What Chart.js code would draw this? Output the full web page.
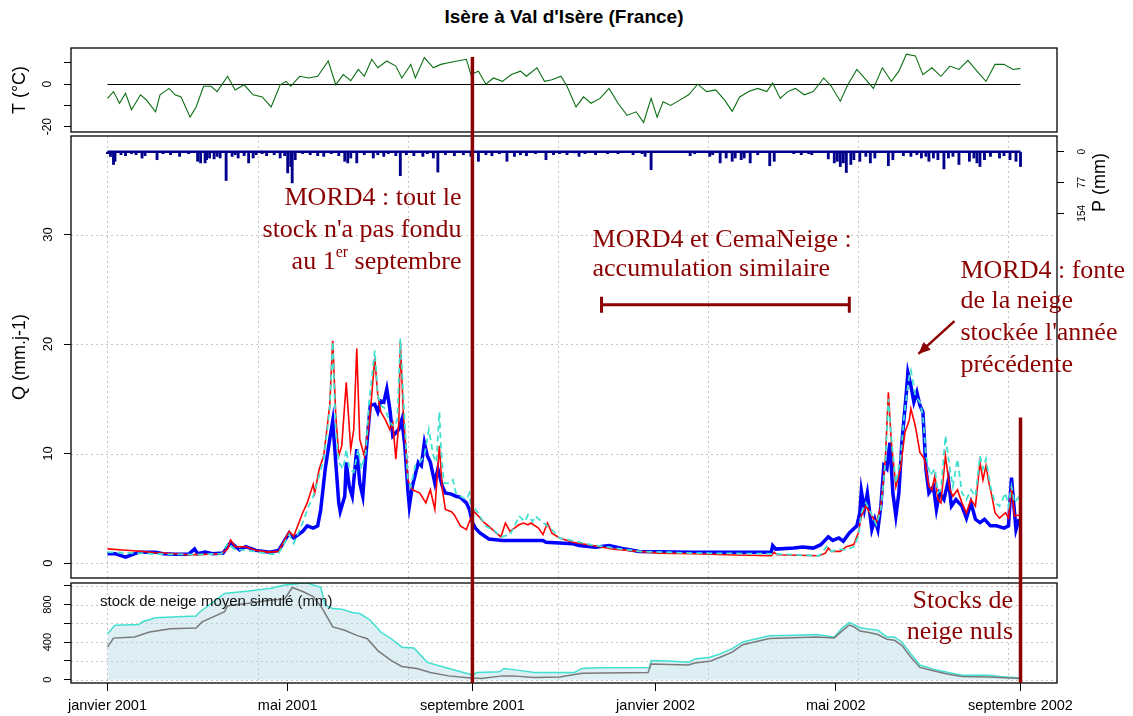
<!DOCTYPE html>
<html>
<head>
<meta charset="utf-8">
<script src="https://cdn.jsdelivr.net/npm/chart.js@4.4.1/dist/chart.umd.min.js"></script>
<style>
  body { margin: 0; background: #fff; width: 1133px; height: 716px; overflow: hidden; position: relative; }
  canvas { position: absolute; left: 0; }
  #title { position: absolute; top: 6px; left: 71px; width: 986px; text-align: center;
           font: bold 19px "Liberation Sans", Arial, sans-serif; color: #000; }
</style>
</head>
<body>
<div id="title">Isère à Val d'Isère (France)</div>
<canvas id="cT" width="1133" height="135" style="top:0"></canvas>
<canvas id="cQ" width="1133" height="446" style="top:135px"></canvas>
<canvas id="cS" width="1133" height="135" style="top:581px"></canvas>
<script>
// days counted from 1 janvier 2001
const monthTickDays = [0, 120, 243, 365, 485, 608];
const monthTickLabels = ['janvier 2001', 'mai 2001', 'septembre 2001', 'janvier 2002', 'mai 2002', 'septembre 2002'];
const gridDays = [0, 100, 200, 300, 400, 500, 600];
const septDays = [243, 608];

// temperature (°C)
const tDays = [0,4,8,12,16, 22,26,32,35,41, 45,49,55,59,64, 69,73,80,85,91, 97,103,109,115,119,
  122,128,134,140,147, 152,157,162,167,171, 176,180,186,192,196, 202,205,211,217,222, 227,233,239,242,247,
  252,257,263,269,275, 279,286,291,296,302, 306,312,317,322,328, 334,340,346,352,357, 362,366,370,375,381,
  387,393,399,405,411, 416,421,427,433,439, 443,448,453,458,464, 470,477,482,488,493, 499,504,510,516,522,
  527,532,538,543,549, 555,561,567,573,579, 585,591,597,603,608];
const tValues = [-6.7,-3.5,-9,-4.3,-12, -5,-7.5,-13,-5,-2, -5,-6,-15.5,-10.7,-1, -1,-3.5,3.7,-2.7,-0.3, -5,-6,-10.7,-0.3,1.3,
  -1,3.7,2.9,3.7,10.9, -0.3,4.5,1.6,6.9,3.7, 11.7,7.7,10.9,8.5,2.9, 9.3,2.9,12.5,7.7,9.3, 10.1,10.9,11.7,4.5,6.1,
  0,2.9,1.3,4.5,6.1, 3.7,7.7,1.3,2.1,3.7, -1,-10.7,-6,-9,-6.7, -2,-9,-14.7,-13,-18, -6.7,-15.5,-8.3,-10,-7.5,
  -5,0,-3.5,-2.7,-7.5, -12.8,-6,-3.5,-2,-3.5, 0.5,-6.7,-3.5,-2,-5, -3.5,2.9,-1,-8,-0.3, 6.9,2.9,-2,7.7,1.3,
  6.1,14.1,13.3,4.5,7.7, 3.7,8.5,6.9,11.2,6.1, 1.3,9.3,9.3,6.9,7.4];

// precipitation (mm)
const pDays = [0,2,4,5,9, 12,16,19,23,25, 33,37,42,48,54, 60,62,65,66,68, 71,73,75,79,83, 85,87,91,94,97,
  99,103,106,111,115, 118,120,122,123,125, 130,135,140,144,149, 154,158,160,162,166, 171,177,180,184,187,
  192,195,199,204,210, 213,217,220,225,231, 237,242,247,252,256, 261,266,271,275,279, 285,292,297,301,306,
  311,314,318,325,333, 340,350,356,358,362, 388,391,401,403,408, 412,416,418,422,424, 428,433,441,444,457,
  462,467,469,480,484, 486,488,490,492,495, 497,501,505,508,511, 520,523,530,535,539, 542,545,547,550,553,
  557,560,563,567,574, 577,579,581,584,588, 594,597,601,605,608];
const pValues = [5,12,32,24,7.5, 10,5,7.5,16,10, 20,5,7.5,11.7,5, 24,28,28,20,15.8, 18,11.7,15.8,72,11.7, 7.5,15.8,10,28,15.8,
  7.5,5,10,7.5,15.8, 10,53,37,78,20, 5,7.5,10,11.7,5, 10,24,28,15.8,28, 7.5,15.8,7.5,11.7,5,
  10,60,7.5,10,11.7, 5,15.8,51,7.5,10, 7.5,11.7,24,7.5,10, 5,24,11.7,7.5,10, 5,20,7.5,5,7.5,
  3,11.7,5,7.5,5, 5,7.5,5,11.7,45, 10,5,11.7,7.5,28, 15.8,24,15.8,20,15.8, 28,7.5,35,24,5,
  7.5,5,7.5,18,28, 24,37,28,52,32, 20,24,11.7,28,15.8, 35,20,10,11.7,7.5, 15.8,11.7,24,15.8,20,
  43,15.8,11.7,32,24, 15.8,28,37,20,11.7, 15.8,10,20,24,37];

// observed discharge (mm/j)
const obsDays = [0,5,12,17,21, 32,37,45,54,58, 60,65,70,77,80, 82,88,92,99,108, 114,121,124,130,133,
  137,140,142,145,148, 150,152,154,155,158, 159,161,163,166,168, 170,172,175,178,180, 182,184,186,188,190,
  192,194,196,198,200, 201,203,207,209,211, 213,215,218,220,223, 225,229,232,235,239, 241,243,245,248,254,
  263,290,292,310,314, 325,334,345,354,390, 442,443,445,457,463, 470,475,480,483,487, 490,494,499,501,502,
  504,506,509,511,513, 515,517,519,521,523, 525,527,529,532,533, 535,537,539,541,543, 545,547,550,552,554,
  557,560,562,565,569, 572,575,578,581,584, 588,592,597,600,602, 604,605,607];
const obsQ = [0.86,0.86,0.55,0.8,1.0, 1.0,0.86,0.8,0.8,1.3, 0.86,1.0,0.86,0.92,1.5, 1.9,1.2,1.5,1.16,1.0, 1.16,2.75,2.3,2.9,3.4,
  3.2,3.4,4.9,8.6,11.3, 13,9.2,5.5,4.7,6.1, 9.2,7,6.1,10.4,7.3, 6.1,9.8,14.4,14.5,13.8, 14.8,14.7,15.9,14.1,11.6,
  11.9,12.2,13.1,10.7,6.7, 5.2,7,9.2,8.9,11, 9.8,9.2,7.3,8.6,7, 6.4,6.3,6.1,6,5.5, 4.9,3.7,3.2,2.75,2.2,
  2.07,2.07,1.9,1.77,1.6, 1.46,1.6,1.28,1.07,0.98, 0.98,1.6,1.28,1.37,1.46, 1.37,1.68,2.4,2.07,2.3, 2.0,2.75,3.4,4.6,6.6,
  4.9,6.4,3.06,4,3.06, 5.2,8.9,8.6,11,6.4, 4.3,6.4,11,15.6,17.4, 16.2,14.7,15.6,14.4,13.8, 8.6,6.4,7,4.9,6.4,
  5.8,7.6,5.2,5.8,5.2, 4.1,5.5,4,3.7,4, 3.4,3.4,3.2,3.4,7.8, 4.6,3.06,4];

// MORD4 simulated discharge (mm/j)
const mordDays = [0,10,20,32,45, 54,65,76,80,82, 85,92,99,107,114, 121,124,130,133,137, 138,141,144,148,150,
  152,154,156,159,162, 164,166,168,171,173, 175,178,180,182,185, 188,190,192,194,195, 197,200,203,208,212,
  215,218,221,223,225, 229,231,235,239,241, 244,247,250,254,259, 262,265,268,271,274, 277,280,282,287,290,
  293,296,301,310,323, 337,354,368,390,412, 442,444,446,474,478, 480,482,488,492,497, 500,502,505,509,512,
  515,518,520,522,525, 528,531,534,535,538, 541,544,547,549,551, 553,555,558,561,563, 566,569,572,575,578,
  581,583,585,587,589, 591,594,598,600,602, 604,607];
const mordQ = [1.3,1.2,1.1,0.95,0.85, 0.75,0.8,0.86,1.3,2.1, 1.5,1.5,1.16,1.0,1.07, 2.9,2.45,4.6,5.5,7.2, 6.4,8.6,9.8,14.4,20.3,
  13.5,9.8,10.7,16.5,10.4, 12.2,19.6,11.3,9.8,11.6, 13.8,18.7,15.3,13.8,13.1, 12.2,12.8,9.5,12.8,20.2, 13.8,7.6,6.7,6.4,5.5,
  6.7,4.9,10.7,6.7,4.9, 4.7,4.4,3.4,3.06,3.8, 4.7,4.3,3.8,3.35,2.74, 2.4,3.66,2.9,3.2,3.5, 3.66,3.5,3.66,3.2,2.6,
  3.66,2.74,2.3,1.9,1.6, 1.28,1.07,0.91,0.85,0.76, 0.67,0.98,0.76,0.67,0.91, 1.37,1.07,1.07,1.5,1.7, 2.75,4.3,5.2,4.3,3.7,
  5.2,9.5,15.6,11,7, 8.6,11.9,13.1,14.1,12.5, 10.1,9.5,7,6.7,8, 5.8,5.5,9.8,6.7,6.1, 6.7,5.5,4.6,5.8,5.2,
  9.2,7.6,8.9,7.3,6.1, 4.6,4.1,4.6,4.1,7, 4.3,4.4];

// CemaNeige simulated discharge (mm/j)
const cemaDays = [0,20,40,60,76, 80,85,92,100,110, 114,121,124,130,134, 137,141,144,148,150, 152,154,157,159,161,
  164,167,169,172,174, 178,180,182,185,188, 191,193,195,197,200, 202,205,208,211,214, 217,219,221,222,224,
  228,230,232,235,239, 241,243,245,248,252, 257,262,268,271,274, 278,280,283,285,289, 292,296,301,323,354,
  390,442,474,479,482, 488,492,497,500,502, 505,509,512,515,518, 520,522,525,528,531, 534,535,538,541,543,
  545,548,551,553,555, 558,561,563,566,569, 572,575,578,581,583, 585,588,591,594,598, 600,602,604,607];
const cemaQ = [1.0,0.9,0.8,0.78,0.86, 1.8,1.2,1.2,1.0,0.8, 0.9,2.6,1.8,3.7,5.2, 6.1,8,9.5,14.1,20.2, 12.2,9.2,8.6,10.4,8.6,
  8.3,10.4,8.6,10.1,14.4, 19.4,15.3,14.4,14.1,12.8, 12.5,13.1,20.5,15.3,7.6, 7,8.9,9.2,9.8,12.2, 9.8,9.2,13.8,10.7,7.3,
  7.3,7.6,6.4,6.1,5.8, 6.4,4,4.9,4.3,3.35, 3.05,2.4,2.6,3.35,4.3, 3.8,4.4,3.8,4.3,3.8, 3.5,3.05,2.3,1.65,1.07,
  0.91,0.85,0.67,1.52,1.07, 1.28,1.2,1.5,2.45,4.6, 5.5,4.4,3.5,4.9,9.2, 15,11.3,7.3,9.5,14.1, 17.1,17.6,15.3,14.7,13.5,
  9.8,8,8.6,6.4,6.7, 11.6,8.6,7,9.5,6.4, 5.8,6.7,6.1,9.8,8.6, 9.5,7,5.5,5.2,6.4, 5.2,7,5.5,6.1];

// simulated mean snow stock (mm)
const snowCemaDays = [0,5,21,23,32, 47,59,61,78,94, 109,118,125,132,142, 145,150,156,163,168, 175,182,189,196,204,
  213,225,237,243,246, 261,264,272,284,300, 311,316,326,361,362, 374,387,391,401,408, 416,423,433,441,457,
  472,484,489,494,497, 501,507,513,519,524, 529,535,541,550,560, 569,587,594,608];
const snowCema = [490,580,587,615,660, 670,680,716,920,945, 975,1010,1020,1035,985, 795,760,752,716,705, 634,508,436,346,338,
  184,130,76,50,76, 83,119,104,76,76, 76,120,127,130,203, 199,185,221,239,275, 330,402,438,467,474,
  481,456,547,608,590, 554,539,528,456,456, 402,275,156,112,76, 47,47,33,18];
const snowMordDays = [0,4,18,28,42, 59,63,78,80,94, 109,118,123,130,137, 143,150,158,166,173, 180,189,196,206,215,
  227,242,249,263,270, 284,301,316,360,362, 387,391,401,408,416, 423,433,441,472,484, 489,494,497,501,507,
  513,519,524,529,535, 541,550,560,569,587, 608];
const snowMord = [346,443,454,508,544, 551,616,724,788,814, 850,860,983,940,886, 760,562,526,472,436, 310,202,140,119,76,
  40,18,11,40,40, 22,29,69,76,167, 156,177,195,239,293, 373,409,438,456,445, 518,583,565,518,503,
  481,431,420,366,239, 130,94,58,33,29, 11];

const X_MIN = -24.3, X_MAX = 632.3;
const SANS = '"Liberation Sans", Arial, sans-serif';
const SERIF = '"Liberation Serif", "Times New Roman", serif';
const DARKRED = '#8b0000';
Chart.defaults.font.family = SANS;

function pts(days, vals) {
  return days.map((d, i) => ({ x: d, y: vals[i] }));
}

function vText(ctx, txt, x, y, size) {
  ctx.save();
  ctx.translate(x, y);
  ctx.rotate(-Math.PI / 2);
  ctx.font = size + 'px ' + SANS;
  ctx.fillStyle = '#000';
  ctx.textAlign = 'center';
  ctx.textBaseline = 'middle';
  ctx.fillText(txt, 0, 0);
  ctx.restore();
}

// y axis with outside tick marks only, labels drawn rotated by a plugin
function yAxis(min, max, ticks, side, width, reverse) {
  return {
    position: side, min: min, max: max, reverse: !!reverse,
    afterBuildTicks: s => { s.ticks = ticks.map(v => ({ value: v })); },
    afterFit: s => { s.width = width; },
    ticks: { display: false },
    grid: { drawOnChartArea: false, drawTicks: true, tickLength: 7, tickColor: '#000', tickWidth: 1 },
    border: { display: false }
  };
}

function hiddenX() {
  return { type: 'linear', min: X_MIN, max: X_MAX, offset: false, grid: { offset: false }, display: false };
}

// dotted grid, box, rotated labels, red september lines
function decor(o) {
  return {
    id: 'decor',
    beforeDatasetsDraw(chart) {
      const { ctx, chartArea: a, scales } = chart;
      ctx.save();
      ctx.strokeStyle = '#c4c4c4';
      ctx.lineWidth = 1;
      ctx.setLineDash([2, 3]);
      (o.vGrid || []).forEach(d => {
        const x = Math.round(scales.x.getPixelForValue(d)) + 0.5;
        ctx.beginPath(); ctx.moveTo(x, a.top); ctx.lineTo(x, a.bottom); ctx.stroke();
      });
      (o.hGrid || []).forEach(v => {
        const y = Math.round(scales.y.getPixelForValue(v)) + 0.5;
        ctx.beginPath(); ctx.moveTo(a.left, y); ctx.lineTo(a.right, y); ctx.stroke();
      });
      ctx.setLineDash([]);
      if (o.zeroLine) {
        const y = Math.round(scales.y.getPixelForValue(0)) + 0.5;
        ctx.strokeStyle = '#000';
        ctx.beginPath();
        ctx.moveTo(scales.x.getPixelForValue(tDays[0]), y);
        ctx.lineTo(scales.x.getPixelForValue(tDays[tDays.length - 1]), y);
        ctx.stroke();
      }
      ctx.restore();
    },
    afterDatasetsDraw(chart) {
      const { ctx, chartArea: a } = chart;
      ctx.save();
      ctx.strokeStyle = '#000';
      ctx.lineWidth = 1.3;
      ctx.strokeRect(a.left, a.top, a.right - a.left, a.bottom - a.top);
      ctx.restore();
    },
    afterDraw(chart) {
      const { ctx, chartArea: a, scales } = chart;
      (o.axes || []).forEach(ax => {
        const s = scales[ax.id];
        const lx = ax.side === 'left' ? a.left - 23 : a.right + 25;
        ax.labels.forEach(v => vText(ctx, String(v), lx, s.getPixelForValue(v), ax.size));
        const tx = ax.side === 'left' ? a.left - 51 : a.right + 43;
        const ty = ax.titleAt != null ? s.getPixelForValue(ax.titleAt) : (a.top + a.bottom) / 2;
        vText(ctx, ax.title, tx, ty, ax.titleSize);
      });
      if (o.notes) o.notes(chart);
      ctx.save();
      ctx.strokeStyle = DARKRED;
      ctx.lineWidth = 3.5;
      (o.redLines || []).forEach(r => {
        const x = scales.x.getPixelForValue(r.day);
        const y0 = r.from != null ? scales[r.scale].getPixelForValue(r.from) : 0;
        const y1 = r.toArea ? a.bottom : chart.height;
        ctx.beginPath(); ctx.moveTo(x, y0); ctx.lineTo(x, y1); ctx.stroke();
      });
      ctx.restore();
    }
  };
}

const baseOpts = {
  responsive: false, animation: false, events: [], devicePixelRatio: 1,
  plugins: { legend: { display: false }, tooltip: { enabled: false } },
  elements: { point: { radius: 0 }, line: { tension: 0 } }
};

// ---------- temperature panel
new Chart(document.getElementById('cT'), {
  type: 'line',
  data: { datasets: [{ data: pts(tDays, tValues), borderColor: '#0b6e12', borderWidth: 1.1 }] },
  options: Object.assign({}, baseOpts, {
    layout: { padding: { top: 48, bottom: 3, left: 0, right: 76 } },
    scales: { x: hiddenX(), y: yAxis(-22.5, 17, [-20, -10, 0, 10], 'left', 71) }
  }),
  plugins: [decor({
    zeroLine: true,
    axes: [{ id: 'y', side: 'left', labels: [0, -20], size: 12, title: 'T (°C)', titleSize: 18 }],
    redLines: [{ day: septDays[0], scale: 'y', from: 12.8 }]
  })]
});

// ---------- discharge / precipitation panel
function qNotes(chart) {
  const { ctx, scales: { x, y } } = chart;
  const sup = '16px ' + SERIF, font = '26px ' + SERIF;
  ctx.save();
  ctx.fillStyle = DARKRED;
  ctx.strokeStyle = DARKRED;
  ctx.font = font;
  ctx.textBaseline = 'middle';
  ctx.textAlign = 'right';
  const xr = x.getPixelForValue(235.7);
  ctx.fillText('MORD4 : tout le', xr, y.getPixelForValue(33.3));
  ctx.fillText("stock n'a pas fondu", xr, y.getPixelForValue(30.4));
  ctx.textAlign = 'left';
  const w1 = ctx.measureText('au 1').width, w3 = ctx.measureText(' septembre').width;
  ctx.font = sup;
  const w2 = ctx.measureText('er').width;
  const yl = y.getPixelForValue(27.5);
  let cx = xr - (w1 + w2 + w3);
  ctx.font = font; ctx.fillText('au 1', cx, yl); cx += w1;
  ctx.font = sup; ctx.fillText('er', cx, yl - 9); cx += w2;
  ctx.font = font; ctx.fillText(' septembre', cx, yl);

  const xm = x.getPixelForValue(323);
  ctx.fillText('MORD4 et CemaNeige :', xm, y.getPixelForValue(29.5));
  ctx.fillText('accumulation similaire', xm, y.getPixelForValue(26.8));

  const xf = x.getPixelForValue(568);
  ['MORD4 : fonte', 'de la neige', "stockée l'année", 'précédente'].forEach((t, i) => {
    ctx.fillText(t, xf, y.getPixelForValue([26.7, 23.9, 21.0, 18.1][i]));
  });

  // accumulation bracket
  const bx0 = x.getPixelForValue(329), bx1 = x.getPixelForValue(494), by = y.getPixelForValue(23.6);
  ctx.lineWidth = 3;
  ctx.beginPath();
  ctx.moveTo(bx0, by); ctx.lineTo(bx1, by);
  ctx.moveTo(bx0, by - 8); ctx.lineTo(bx0, by + 8);
  ctx.moveTo(bx1, by - 8); ctx.lineTo(bx1, by + 8);
  ctx.stroke();

  // arrow
  const ax0 = x.getPixelForValue(564), ay0 = y.getPixelForValue(22.1);
  const ax1 = x.getPixelForValue(540), ay1 = y.getPixelForValue(19.1);
  ctx.lineWidth = 2.5;
  ctx.beginPath(); ctx.moveTo(ax0, ay0); ctx.lineTo(ax1, ay1); ctx.stroke();
  const ang = Math.atan2(ay1 - ay0, ax1 - ax0), hl = 13;
  ctx.beginPath();
  ctx.moveTo(ax1, ay1);
  ctx.lineTo(ax1 - hl * Math.cos(ang - 0.42), ay1 - hl * Math.sin(ang - 0.42));
  ctx.lineTo(ax1 - hl * Math.cos(ang + 0.42), ay1 - hl * Math.sin(ang + 0.42));
  ctx.closePath(); ctx.fill();
  ctx.restore();
}

new Chart(document.getElementById('cQ'), {
  type: 'line',
  data: {
    datasets: [
      { label: 'CemaNeige', data: pts(cemaDays, cemaQ), borderColor: '#40e0d0', borderWidth: 1.8, borderDash: [6, 4], yAxisID: 'y' },
      { label: 'MORD4', data: pts(mordDays, mordQ), borderColor: '#ff0000', borderWidth: 1.6, yAxisID: 'y' },
      { label: 'observé', data: pts(obsDays, obsQ), borderColor: '#0000ff', borderWidth: 3.5, yAxisID: 'y' },
      { label: 'P0', data: [{ x: pDays[0], y: 0 }, { x: pDays[pDays.length - 1], y: 0 }], borderColor: '#00008b', borderWidth: 2.5, yAxisID: 'p' },
      { type: 'bar', label: 'P', data: pts(pDays, pValues), backgroundColor: '#00008b', barThickness: 2.2, yAxisID: 'p' }
    ]
  },
  options: Object.assign({}, baseOpts, {
    layout: { padding: { top: 1, bottom: 3, left: 0, right: 0 } },
    scales: {
      x: hiddenX(),
      y: yAxis(-1.36, 39.0, [0, 10, 20, 30], 'left', 71),
      p: yAxis(-39.3, 1066, [0, 77, 154], 'right', 76, true)
    }
  }),
  plugins: [decor({
    vGrid: gridDays, hGrid: [0, 10, 20, 30],
    axes: [
      { id: 'y', side: 'left', labels: [0, 10, 20, 30], size: 13, title: 'Q (mm.j-1)', titleSize: 18 },
      { id: 'p', side: 'right', labels: [0, 77, 154], size: 10, title: 'P (mm)', titleSize: 18, titleAt: 77 }
    ],
    notes: qNotes,
    redLines: [{ day: septDays[0], scale: 'y' }, { day: septDays[1], scale: 'y', from: 13.3 }]
  })]
});

// ---------- snow stock panel
function sNotes(chart) {
  const { ctx, scales: { x, y } } = chart;
  ctx.save();
  ctx.textBaseline = 'middle';
  ctx.font = '15px ' + SANS;
  ctx.fillStyle = '#111';
  ctx.textAlign = 'left';
  ctx.fillText('stock de neige moyen simulé (mm)', x.getPixelForValue(-5), y.getPixelForValue(829));
  ctx.font = '26px ' + SERIF;
  ctx.fillStyle = DARKRED;
  ctx.textAlign = 'right';
  ctx.fillText('Stocks de', x.getPixelForValue(603), y.getPixelForValue(840));
  ctx.fillText('neige nuls', x.getPixelForValue(603), y.getPixelForValue(505));
  ctx.restore();
}

new Chart(document.getElementById('cS'), {
  type: 'line',
  data: {
    datasets: [
      { label: 'MORD4', data: pts(snowMordDays, snowMord), borderColor: '#7a7a7a', borderWidth: 1.5 },
      { label: 'CemaNeige', data: pts(snowCemaDays, snowCema), borderColor: '#40e0d0', borderWidth: 1.5,
        fill: 'origin', backgroundColor: 'rgba(173,216,230,0.42)' }
    ]
  },
  options: Object.assign({}, baseOpts, {
    layout: { padding: { top: 2, bottom: 0, left: 0, right: 76 } },
    scales: {
      x: {
        type: 'linear', min: X_MIN, max: X_MAX, position: 'bottom', offset: false,
        afterBuildTicks: s => { s.ticks = monthTickDays.map(v => ({ value: v })); },
        afterFit: s => { s.height = 33; s.paddingLeft = 0; s.paddingRight = 0; },
        ticks: { autoSkip: false, maxRotation: 0, minRotation: 0, color: '#000', padding: 6,
                 font: { size: 14.5, family: SANS }, callback: (v, i) => monthTickLabels[i] },
        grid: { drawOnChartArea: false, drawTicks: true, tickLength: 8, tickColor: '#000', offset: false },
        border: { display: false }
      },
      y: yAxis(-36, 1031, [0, 200, 400, 600, 800, 1000], 'left', 71)
    }
  }),
  plugins: [decor({
    vGrid: gridDays, hGrid: [0, 200, 400, 600, 800, 1000],
    axes: [{ id: 'y', side: 'left', labels: [0, 400, 800], size: 11, title: '', titleSize: 12 }],
    notes: sNotes,
    redLines: [{ day: septDays[0], scale: 'y', toArea: true }, { day: septDays[1], scale: 'y', toArea: true }]
  })]
});
</script>
</body>
</html>
